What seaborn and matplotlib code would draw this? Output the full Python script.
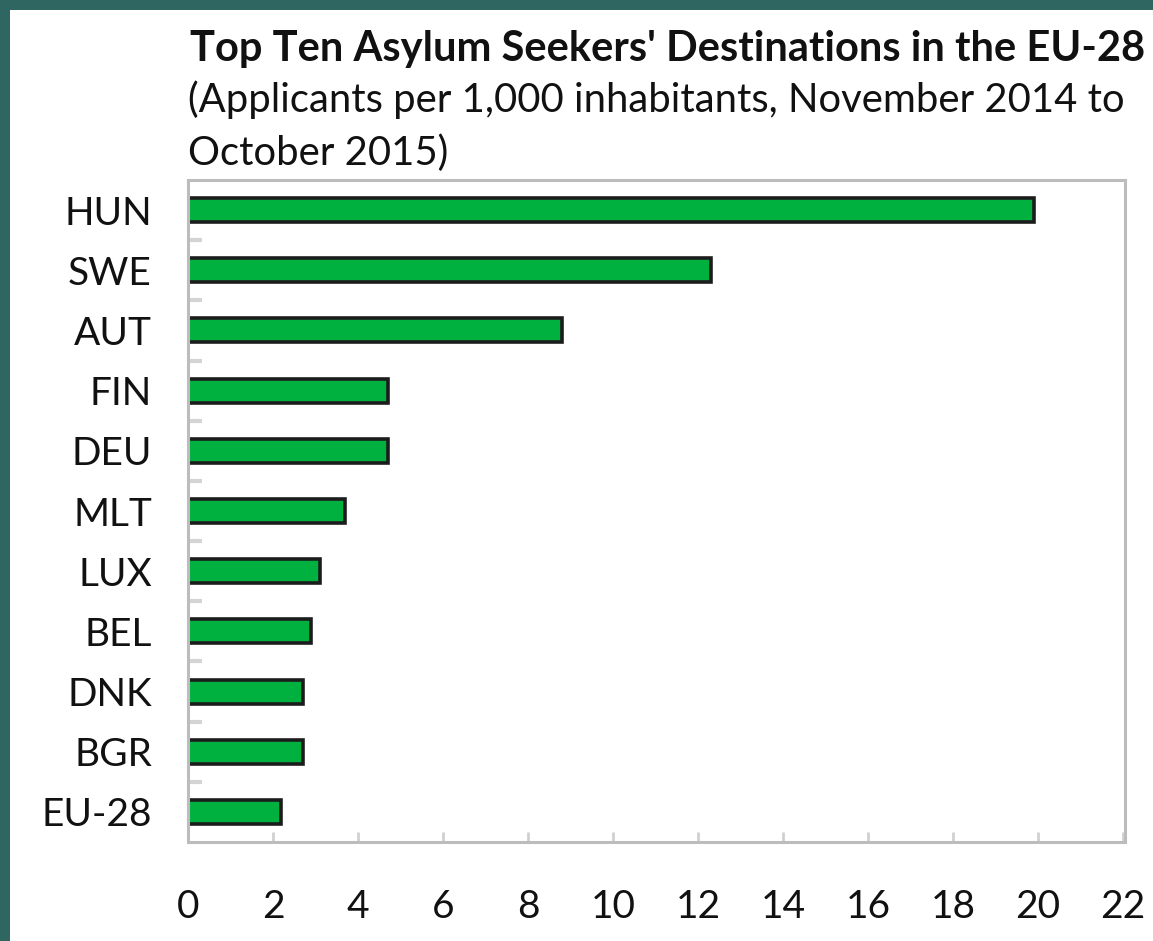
import matplotlib
matplotlib.use("Agg")
import matplotlib.pyplot as plt
import seaborn as sns
import pandas as pd
from matplotlib.patches import Rectangle

countries = ["HUN", "SWE", "AUT", "FIN", "DEU", "MLT", "LUX", "BEL", "DNK", "BGR", "EU-28"]
applicants = [19.9, 12.3, 8.8, 4.7, 4.7, 3.7, 3.1, 2.9, 2.7, 2.7, 2.2]
x_ticks = [0, 2, 4, 6, 8, 10, 12, 14, 16, 18, 20, 22]

title = "Top Ten Asylum Seekers' Destinations in the EU-28"
subtitle1 = "(Applicants per 1,000 inhabitants, November 2014 to"
subtitle2 = "October 2015)"

sns.set_theme(style="white")
plt.rcParams["font.family"] = ["Lato", "DejaVu Sans"]

W, H = 1153, 941
fig = plt.figure(figsize=(W / 100, H / 100), dpi=100, facecolor="#2f6662")
fig.patches.append(Rectangle((10 / W, 0), 1, 1 - 10 / H, transform=fig.transFigure,
                             facecolor="white", edgecolor="none", zorder=-5))

ax = fig.add_axes([188 / W, 1 - 842 / H, (1125 - 188) / W, (842 - 180) / H])
ax.set_facecolor("white")
ax.set_zorder(2)

df = pd.DataFrame({"country": countries, "value": applicants})
sns.barplot(data=df, x="value", y="country", orient="h", color="#00b140",
            width=0.4, edgecolor="#1c1c1c", linewidth=2.6, saturation=1, ax=ax)

ax.set_xlim(0, 22.05)
ax.set_ylim(10.5, -0.5)
ax.set_xticks(x_ticks)
ax.set_xticklabels([str(t) for t in x_ticks])
ax.set_xlabel("")
ax.set_ylabel("")

for s in ax.spines.values():
    s.set_color("#bcbcbc")
    s.set_linewidth(2.2)
    s.set_visible(True)

ax.tick_params(axis="x", direction="in", length=7, width=2, color="#d0d0d0",
               labelsize=28, pad=34, labelcolor="#111111", bottom=True)
ax.tick_params(axis="y", which="major", length=0, labelsize=28, pad=26,
               labelcolor="#111111")
ax.set_yticks([i + 0.5 for i in range(10)], minor=True)
ax.tick_params(axis="y", which="minor", direction="in", length=10, width=3,
               color="#d4d4d4", left=True)

renderer = fig.canvas.get_renderer()

def fit_text(x, y, text, target_w, size, weight):
    t = fig.text(x / W, 1 - y / H, text, fontsize=size, fontweight=weight,
                 color="#111111", ha="left", va="baseline", zorder=5)
    w = t.get_window_extent(renderer).width
    t.set_fontsize(size * target_w / w)
    return t

t1 = fit_text(190, 61, title, 955, 26, "bold")
t2 = fit_text(188, 112, subtitle1, 937, 24, "normal")
t3 = fig.text(188 / W, 1 - 165 / H, subtitle2, fontsize=t2.get_fontsize(),
              color="#111111", ha="left", va="baseline", zorder=5)

fig.savefig("out.png", dpi=100, facecolor=fig.get_facecolor())
